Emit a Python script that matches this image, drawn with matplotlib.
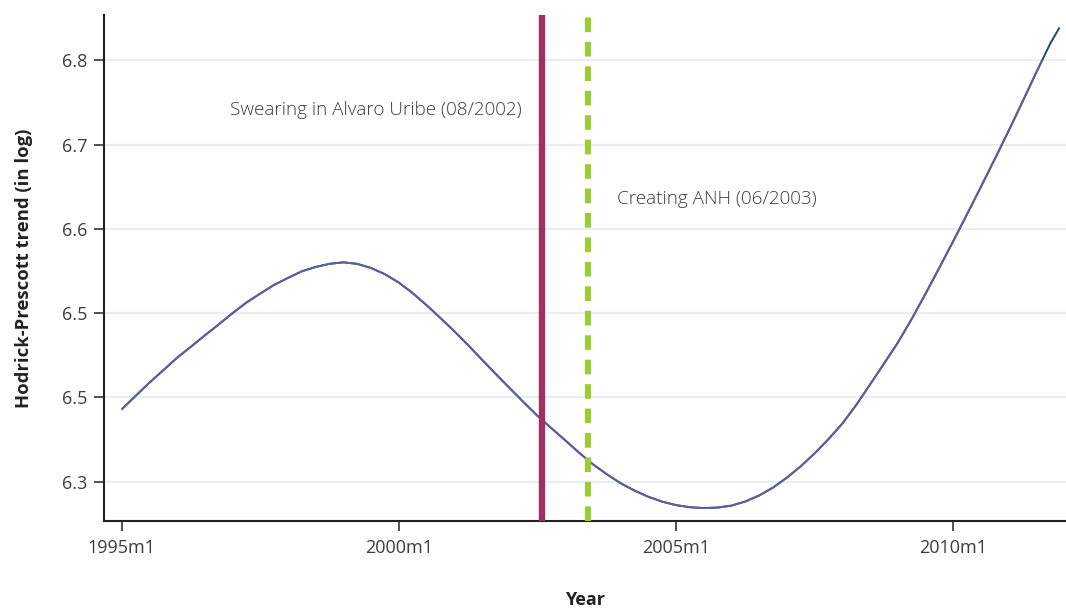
import matplotlib
matplotlib.use("Agg")
import matplotlib.pyplot as plt
from matplotlib.patches import Rectangle

# Month index counted from 1995m1 (=0), quarterly readings
months = [0, 3, 6, 9, 12, 15, 18, 21, 24, 27, 30, 33, 36, 39, 42, 45, 48,
          51, 54, 57, 60, 63, 66, 69, 72, 75, 78, 81, 84, 87, 90, 93, 96,
          99, 102, 105, 108, 111, 114, 117, 120, 123, 126, 129, 132, 135,
          138, 141, 144, 147, 150, 153, 156, 159, 162, 165, 168, 171, 174,
          177, 180, 183, 186, 189, 192, 195, 198, 201, 203]
trend = [6.3857, 6.4016, 6.4173, 6.4321, 6.4470, 6.4601, 6.4735, 6.4865,
         6.4999, 6.5125, 6.5232, 6.5335, 6.5418, 6.5496, 6.5548, 6.5585,
         6.5603, 6.5585, 6.5536, 6.5462, 6.5363, 6.5238, 6.5095, 6.4943,
         6.4786, 6.4621, 6.4448, 6.4277, 6.4110, 6.3944, 6.3782, 6.3636,
         6.3492, 6.3345, 6.3207, 6.3089, 6.2982, 6.2895, 6.2821, 6.2763,
         6.2722, 6.2697, 6.2687, 6.2693, 6.2716, 6.2765, 6.2836, 6.2930,
         6.3048, 6.3183, 6.3336, 6.3505, 6.3690, 6.3910, 6.4154, 6.4400,
         6.4650, 6.4930, 6.5230, 6.5540, 6.5855, 6.6175, 6.6500, 6.6830,
         6.7165, 6.7510, 6.7860, 6.8200, 6.8390]

xtick_pos = [0, 60, 120, 180]
xtick_labels = ["1995m1", "2000m1", "2005m1", "2010m1"]
ytick_pos = [6.3, 6.4, 6.5, 6.6, 6.7, 6.8]
ytick_labels = ["6.3", "6.5", "6.5", "6.6", "6.7", "6.8"]

event_uribe = 91      # 2002m8
event_anh = 101       # 2003m6
label_uribe = "Swearing in Alvaro Uribe (08/2002)"
label_anh = "Creating ANH (06/2003)"

plt.rcParams['font.family'] = ['Open Sans', 'DejaVu Sans']

fig = plt.figure(figsize=(10.66, 6.11), dpi=100)
ax = fig.add_axes([104 / 1066, 1 - 520.7 / 611, 1 - 104 / 1066, (520.7 - 15) / 611])

xmin, xmax = -3.8, 204.4
ymin, ymax = 6.2537, 6.8538
ax.set_xlim(xmin, xmax)
ax.set_ylim(ymin, ymax)

# grid
for y in ytick_pos:
    ax.axhline(y, color='#e9eff1', lw=1.6, zorder=0)

# trend line (dark blue underneath, purple clipped at 6.8)
ax.plot(months, trend, color='#1b4a6b', lw=1.4, zorder=3, solid_capstyle='butt')
purple, = ax.plot(months, trend, color='#625e9e', lw=1.4, zorder=4,
                  solid_capstyle='butt', solid_joinstyle='round')
clip = Rectangle((xmin, ymin), xmax - xmin, 6.8 - ymin, transform=ax.transData,
                 facecolor='none', edgecolor='none')
ax.add_patch(clip)
purple.set_clip_path(clip)

# event lines
ax.axvline(event_uribe, color='#9c3264', lw=4.6, zorder=5)
ax.axvline(event_anh, color='#9acd32', lw=4.4, ls=(0, (2.4, 1.6)), zorder=5)

ax.text(86.6, 6.741, label_uribe, ha='right', va='center', fontsize=13.6,
        color='#3c3c3c', fontweight='light')
ax.text(107.2, 6.6353, label_anh, ha='left', va='center', fontsize=13.6,
        color='#3c3c3c', fontweight='light')

ax.set_xticks(xtick_pos)
ax.set_xticklabels(xtick_labels)
ax.set_yticks(ytick_pos)
ax.set_yticklabels(ytick_labels)
ax.tick_params(axis='both', direction='out', length=7, width=1.1, color='#222222',
               labelsize=13, labelcolor='#3c3c3c')
ax.tick_params(axis='x', pad=6)
ax.tick_params(axis='y', pad=5)

for s in ['top', 'right']:
    ax.spines[s].set_visible(False)
for s in ['left', 'bottom']:
    ax.spines[s].set_color('#222222')
    ax.spines[s].set_linewidth(1.5)

ax.set_xlabel("Year", fontsize=13, fontweight='bold', color='#222222', labelpad=25)
ax.set_ylabel("Hodrick-Prescott trend (in log)", fontsize=13.3, fontweight='bold',
              color='#222222', labelpad=21)

fig.savefig("out.png", dpi=100)
